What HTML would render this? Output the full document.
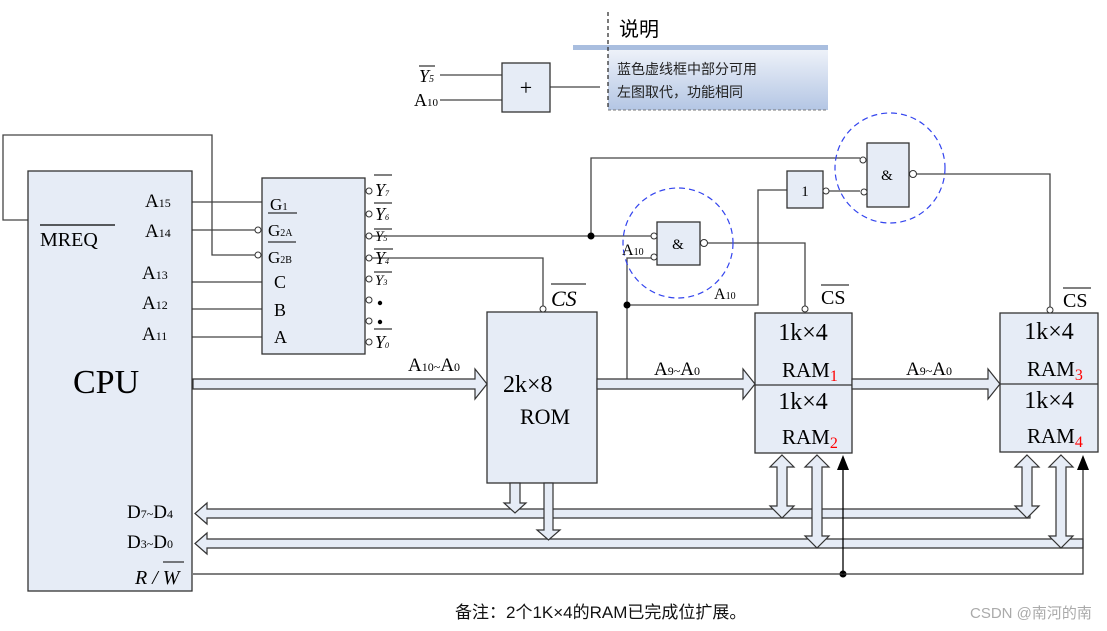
<!DOCTYPE html>
<html><head><meta charset="utf-8"><style>
html,body{margin:0;padding:0;background:#fff;}
svg{display:block;}
.t{font-family:"Liberation Serif",serif;fill:#000;}
.c{font-family:"Liberation Sans","Noto Sans CJK SC",sans-serif;}
</style></head><body>
<svg width="1107" height="631" viewBox="0 0 1107 631" xmlns="http://www.w3.org/2000/svg">
<defs>
<linearGradient id="g" x1="0" y1="0" x2="0" y2="1"><stop offset="0" stop-color="#eef2f9"/><stop offset="1" stop-color="#b4c6e4"/></linearGradient>
</defs>
<g fill="none" stroke="#444" stroke-width="1.3">
<!-- loop -->
<polyline points="28,220 3,220 3,135 212,135 212,255 255,255"/>
<line x1="192" y1="202" x2="262" y2="202"/>
<line x1="192" y1="230" x2="255" y2="230"/>
<line x1="192" y1="282" x2="262" y2="282"/>
<line x1="192" y1="309" x2="262" y2="309"/>
<line x1="192" y1="337" x2="262" y2="337"/>
<!-- Y5 -->
<line x1="372" y1="236" x2="652" y2="236"/>
<polyline points="591,236 591,158 860,158"/>
<!-- Y4 -->
<polyline points="372,258 543,258 543,306"/>
<!-- A10 -->
<polyline points="627,384 627,305 758,305 758,190 787,190"/>
<polyline points="627,305 627,258 652,258"/>
<polyline points="707,243 805,243 805,306"/>
<line x1="829" y1="191" x2="860" y2="191"/>
<polyline points="916,174 1050,174 1050,307"/>
<!-- top legend lines -->
<line x1="440" y1="75" x2="502" y2="75"/>
<line x1="440" y1="100" x2="502" y2="100"/>
<line x1="550" y1="87" x2="600" y2="87"/>
</g>
<!-- boxes -->
<g fill="#e6ecf6" stroke="#333" stroke-width="1.3">
<rect x="28" y="171" width="164" height="420"/>
<rect x="262" y="178" width="103" height="176"/>
<rect x="487" y="312" width="110" height="171"/>
<rect x="755" y="313" width="97" height="140"/>
<rect x="1000" y="313" width="98" height="139"/>
<rect x="657" y="222" width="43" height="43"/>
<rect x="787" y="171" width="36" height="37"/>
<rect x="867" y="143" width="42" height="64"/>
<rect x="502" y="63" width="48" height="49"/>
</g>
<line x1="755" y1="385" x2="852" y2="385" stroke="#333" stroke-width="1.3"/>
<line x1="1000" y1="384" x2="1098" y2="384" stroke="#333" stroke-width="1.3"/>
<!-- bubbles -->
<g fill="#fff" stroke="#333" stroke-width="1">
<circle cx="258" cy="230" r="3"/><circle cx="258" cy="255" r="3"/>
<circle cx="369" cy="191" r="3"/><circle cx="369" cy="214" r="3"/><circle cx="369" cy="236" r="3"/><circle cx="369" cy="258" r="3"/><circle cx="369" cy="279" r="3"/><circle cx="369" cy="300" r="3"/><circle cx="369" cy="321" r="3"/><circle cx="369" cy="342" r="3"/>
<circle cx="543" cy="309" r="3"/><circle cx="805" cy="309" r="3"/><circle cx="1050" cy="310" r="3"/>
<circle cx="654" cy="236" r="3"/><circle cx="654" cy="257" r="3"/><circle cx="704" cy="243" r="3.5"/>
<circle cx="826" cy="191" r="3"/><circle cx="863" cy="160" r="3"/><circle cx="864" cy="192" r="3"/><circle cx="913" cy="174" r="3.5"/>
</g>
<g fill="#000"><circle cx="591" cy="236" r="3.5"/><circle cx="627" cy="305" r="3.5"/><circle cx="843" cy="574" r="3.5"/></g>
<!-- dashed circles -->
<circle cx="678" cy="243" r="55" fill="none" stroke="#3344ee" stroke-width="1.2" stroke-dasharray="6,4"/>
<circle cx="890" cy="168" r="55" fill="none" stroke="#3344ee" stroke-width="1.2" stroke-dasharray="6,4"/>
<!-- buses -->
<g fill="#e6ecf6" stroke="#333" stroke-width="1.2">
<polygon points="193,379 475,379 475,369 487,384 475,399 475,389 193,389"/>
<polygon points="597,379 743,379 743,369 755,384 743,399 743,389 597,389"/>
<polygon points="852,379 988,379 988,369 1000,384 988,399 988,389 852,389"/>
<polygon points="1030,509 207,509 207,503 195,513.5 207,524 207,518 1030,518"/>
<polygon points="1083,539 207,539 207,533 195,543.5 207,554 207,548 1083,548"/>
<polygon points="510,483 520,483 520,503 526,503 515,513 504,503 510,503"/>
<polygon points="544,483 553,483 553,530 560,530 548.5,540 537,530 544,530"/>
<polygon points="782,455 794,467 787,467 787,506 794,506 782,518 770,506 777,506 777,467 770,467"/>
<polygon points="817,455 829,467 822,467 822,536 829,536 817,548 805,536 812,536 812,467 805,467"/>
<polygon points="1027,455 1039,467 1032,467 1032,506 1039,506 1027,518 1015,506 1022,506 1022,467 1015,467"/>
<polygon points="1061,455 1073,467 1066,467 1066,536 1073,536 1061,548 1049,536 1056,536 1056,467 1049,467"/>
</g>
<!-- R/W -->
<polyline points="193,574 1083,574 1083,468" fill="none" stroke="#333" stroke-width="1.3"/>
<line x1="843" y1="574" x2="843" y2="468" stroke="#000" stroke-width="1.3"/>
<polygon points="843,455 849,470 837,470" fill="#000"/>
<polygon points="1083,455 1089,470 1077,470" fill="#000"/>
<!-- legend -->
<rect x="608" y="49" width="220" height="61" fill="url(#g)"/>
<line x1="608" y1="110" x2="828" y2="110" stroke="#777" stroke-dasharray="3,2"/>
<rect x="573" y="45" width="255" height="5" fill="#a9bedf"/>
<line x1="608" y1="12" x2="608" y2="110" stroke="#222" stroke-width="1.2" stroke-dasharray="4,3"/>
<text x="619" y="36" class="c" font-size="20">说明</text>
<text x="617" y="74" class="c" font-size="14" fill="#222">蓝色虚线框中部分可用</text>
<text x="617" y="97" class="c" font-size="14" fill="#222">左图取代，功能相同</text>
<text x="526" y="95" class="t" font-size="22" text-anchor="middle">+</text>
<text x="419" y="82" class="t" font-size="18" font-style="italic">Y<tspan font-size="10">5</tspan></text>
<line x1="419" y1="66" x2="435" y2="66" stroke="#000"/>
<text x="414" y="106" class="t" font-size="18">A<tspan font-size="11">10</tspan></text>
<!-- CPU text -->
<g class="t">
<text x="73" y="393" font-size="34">CPU</text>
<text x="40" y="246" font-size="20">MREQ</text>
<line x1="40" y1="225" x2="115" y2="225" stroke="#000" stroke-width="1.3"/>
<text x="145" y="207" font-size="19">A<tspan font-size="12">15</tspan></text>
<text x="145" y="237" font-size="19">A<tspan font-size="12">14</tspan></text>
<text x="142" y="279" font-size="19">A<tspan font-size="12">13</tspan></text>
<text x="142" y="309" font-size="19">A<tspan font-size="12">12</tspan></text>
<text x="142" y="340" font-size="19">A<tspan font-size="12">11</tspan></text>
<text x="270" y="210" font-size="17">G<tspan font-size="11">1</tspan></text>
<text x="268" y="236" font-size="17">G<tspan font-size="10">2A</tspan></text>
<text x="268" y="263" font-size="17">G<tspan font-size="10">2B</tspan></text>
<line x1="268" y1="213" x2="297" y2="213" stroke="#000"/>
<line x1="268" y1="242" x2="296" y2="242" stroke="#000"/>
<text x="274" y="288" font-size="18">C</text>
<text x="274" y="316" font-size="18">B</text>
<text x="274" y="343" font-size="18">A</text>
<g font-style="italic" font-size="18">
<text x="375" y="196">Y<tspan font-size="8">7</tspan></text>
<text x="375" y="220">Y<tspan font-size="8">6</tspan></text>
<text x="375" y="241" font-size="15">Y<tspan font-size="8">5</tspan></text>
<text x="375" y="264">Y<tspan font-size="8">4</tspan></text>
<text x="375" y="285" font-size="15">Y<tspan font-size="8">3</tspan></text>
<text x="375" y="348">Y<tspan font-size="8">0</tspan></text>
</g>
<g stroke="#000"><line x1="374" y1="175" x2="392" y2="175"/><line x1="374" y1="203" x2="392" y2="203"/><line x1="374" y1="229" x2="392" y2="229"/><line x1="374" y1="249" x2="393" y2="249"/><line x1="374" y1="272" x2="392" y2="272"/><line x1="374" y1="329" x2="392" y2="329"/></g>
<circle cx="380" cy="303" r="2.2" fill="#000"/><circle cx="380" cy="322" r="2.2" fill="#000"/>
<text x="551" y="306" font-size="22" font-style="italic">CS</text>
<line x1="551" y1="284" x2="586" y2="284" stroke="#000"/>
<text x="408" y="371" font-size="19">A<tspan font-size="12">10~</tspan>A<tspan font-size="12">0</tspan></text>
<text x="503" y="392" font-size="24">2k×8</text>
<text x="520" y="424" font-size="22">ROM</text>
<text x="654" y="375" font-size="19">A<tspan font-size="12">9~</tspan>A<tspan font-size="12">0</tspan></text>
<text x="906" y="375" font-size="19">A<tspan font-size="12">9~</tspan>A<tspan font-size="12">0</tspan></text>
<text x="678" y="249" font-size="15" text-anchor="middle">&amp;</text>
<text x="887" y="180" font-size="15" text-anchor="middle">&amp;</text>
<text x="805" y="196" font-size="15" text-anchor="middle">1</text>
<text x="622" y="255" font-size="16">A<tspan font-size="10">10</tspan></text>
<text x="714" y="299" font-size="16">A<tspan font-size="10">10</tspan></text>
<text x="821" y="304" font-size="20">CS</text>
<line x1="821" y1="285" x2="849" y2="285" stroke="#000"/>
<text x="1063" y="307" font-size="20">CS</text>
<line x1="1063" y1="288" x2="1091" y2="288" stroke="#000"/>
<g font-size="24" text-anchor="middle">
<text x="803" y="340">1k×4</text><text x="803" y="409">1k×4</text>
<text x="1049" y="339">1k×4</text><text x="1049" y="408">1k×4</text>
</g>
<g font-size="21">
<text x="782" y="377">RAM<tspan fill="red" font-size="16" dy="4">1</tspan></text>
<text x="782" y="444">RAM<tspan fill="red" font-size="16" dy="4">2</tspan></text>
<text x="1027" y="376">RAM<tspan fill="red" font-size="16" dy="4">3</tspan></text>
<text x="1027" y="443">RAM<tspan fill="red" font-size="16" dy="4">4</tspan></text>
</g>
<text x="127" y="518" font-size="19">D<tspan font-size="12">7~</tspan>D<tspan font-size="12">4</tspan></text>
<text x="127" y="548" font-size="19">D<tspan font-size="12">3~</tspan>D<tspan font-size="12">0</tspan></text>
<text x="135" y="584" font-size="20" font-style="italic">R / W</text>
<line x1="163" y1="562" x2="184" y2="562" stroke="#000"/>
</g>
<text x="455" y="618" class="c" font-size="17" fill="#111">备注：2个1K×4的RAM已完成位扩展。</text>
<text x="970" y="618" class="c" font-size="15" fill="#aaa">CSDN @南河的南</text>
</svg>
</body></html>
